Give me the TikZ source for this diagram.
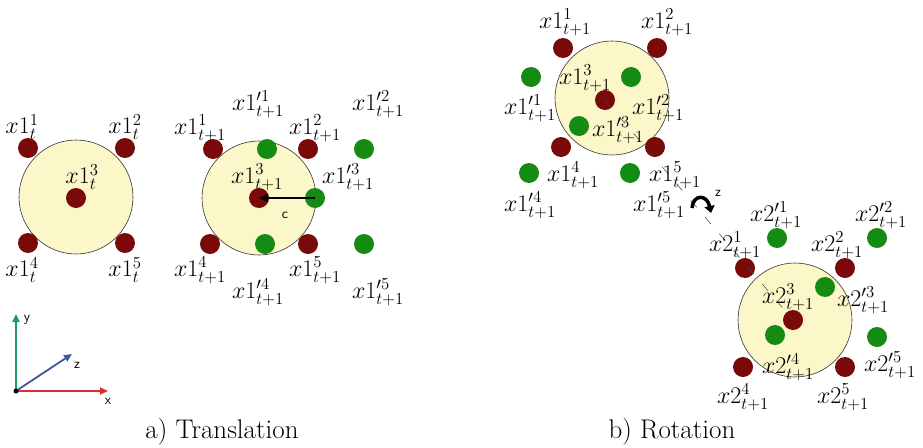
\RequirePackage{fix-cm}
\documentclass[tikz,border=0pt]{standalone}
\usetikzlibrary{arrows.meta}
\definecolor{dred}{HTML}{7A0A0A}
\definecolor{dgreen}{HTML}{148C14}
\definecolor{cfill}{HTML}{FBF7C8}
\definecolor{axgreen}{HTML}{1A9A6A}
\definecolor{axblue}{HTML}{3A5A9A}
\definecolor{axred}{HTML}{D83030}
\begin{document}
\begin{tikzpicture}[x=1pt,y=-1pt,
 rdot/.style={circle,fill=dred,minimum size=20pt,inner sep=0pt},
 gdot/.style={circle,fill=dgreen,minimum size=20pt,inner sep=0pt},
 body/.style={circle,draw=black!80,fill=cfill,line width=0.6pt,minimum size=114pt,inner sep=0pt},
 lab/.style={inner sep=0pt,font=\fontsize{24}{28}\selectfont},
 caption/.style={inner sep=0pt,font=\fontsize{27}{31}\selectfont},
 sflab/.style={inner sep=0pt,font=\sffamily\fontsize{14}{16}\selectfont},
 axis/.style={line width=1.8pt,-{Triangle[length=8pt,width=7pt]}},
]
\useasboundingbox (0,0) rectangle (923,447);

% ---------- Panel a, left ----------
\node[body] (A) at (76,197) {};
\node[rdot] (a1) at (28,148) {};
\node[rdot] (a2) at (125,148) {};
\node[rdot] (a3) at (76,198) {};
\node[rdot] (a4) at (28,243) {};
\node[rdot] (a5) at (125,243) {};
\node[lab] (la1) at (22,127) {$x1^1_t$};
\node[lab] (la2) at (125,127) {$x1^2_t$};
\node[lab] (la3) at (82,177) {$x1^3_t$};
\node[lab] (la4) at (22,270) {$x1^4_t$};
\node[lab] (la5) at (125,270) {$x1^5_t$};

% ---------- Panel a, right ----------
\node[body] (B) at (259,198) {};
\node[rdot] (b1) at (213,149) {};
\node[rdot] (b2) at (308,149) {};
\node[rdot] (b3) at (259,198) {};
\node[rdot] (b4) at (210,244) {};
\node[rdot] (b5) at (308,244) {};
\node[gdot] (bg1) at (267,149) {};
\node[gdot] (bg2) at (364,149) {};
\node[gdot] (bg3) at (315,198) {};
\node[gdot] (bg4) at (265,244) {};
\node[gdot] (bg5) at (364,244) {};
\draw[line width=1.6pt,-{Triangle[length=9pt,width=8pt]}] (bg3.center) -- (b3.center);
\node[sflab] (c) at (285,215) {c};
\node[lab] (lb1) at (200,128) {$x1^1_{t+1}$};
\node[lab] (lbg1) at (258,104) {$x1'^1_{t+1}$};
\node[lab] (lb2) at (315,128) {$x1^2_{t+1}$};
\node[lab] (lbg2) at (378,104) {$x1'^2_{t+1}$};
\node[lab] (lb3) at (257,177) {$x1^3_{t+1}$};
\node[lab] (lbg3) at (348,177) {$x1'^3_{t+1}$};
\node[lab] (lb4) at (200,270) {$x1^4_{t+1}$};
\node[lab] (lbg4) at (258,292) {$x1'^4_{t+1}$};
\node[lab] (lb5) at (315,270) {$x1^5_{t+1}$};
\node[lab] (lbg5) at (378,292) {$x1'^5_{t+1}$};

% ---------- axes ----------
\coordinate (O) at (16,391);
\coordinate (Y) at (16,314);
\coordinate (X) at (108,391);
\coordinate (Z) at (72,354);
\draw[axis,axgreen] (O) -- (Y);
\draw[axis,axred] (O) -- (X);
\draw[axis,axblue] (O) -- (Z);
\fill[black] (O) circle (2.5pt);
\node[sflab] (ly) at (27,320) {y};
\node[sflab] (lz) at (77,365) {z};
\node[sflab] (lx) at (108,401) {x};

% ---------- Panel b, first body ----------
\node[body] (C) at (612,98) {};
\node[rdot] (c1) at (563,48) {};
\node[rdot] (c2) at (657,48) {};
\node[rdot] (c3) at (605,100) {};
\node[rdot] (c4) at (561,147) {};
\node[rdot] (c5) at (655,147) {};
\node[gdot] (cg1) at (531,77) {};
\node[gdot] (cg2) at (631,77) {};
\node[gdot] (cg3) at (579,126) {};
\node[gdot] (cg4) at (529,173) {};
\node[gdot] (cg5) at (630,173) {};

% ---------- Panel b, second body ----------
\node[body] (D) at (795,320) {};
\node[rdot] (d1) at (745,268) {};
\node[rdot] (d2) at (845,268) {};
\node[rdot] (d3) at (793,320) {};
\node[rdot] (d4) at (743,367) {};
\node[rdot] (d5) at (845,367) {};
\node[gdot] (dg1) at (777,238) {};
\node[gdot] (dg2) at (877,238) {};
\node[gdot] (dg3) at (825,287) {};
\node[gdot] (dg4) at (775,335) {};
\node[gdot] (dg5) at (877,337) {};

% rotation axis
\draw[black!75,line width=0.5pt,dash pattern=on 9pt off 13pt] (c3.center) -- (d3.center);

% rotation arrow
\coordinate (ra) at (692,208);
\coordinate (rb) at (711,213);
\draw[line width=3.5pt,-{Triangle[length=7pt,width=10pt]}] (ra) .. controls (693,194) and (707,194) .. (rb);
\node[sflab] (rz) at (718,193) {z};

\node[lab] (lc1) at (565,22) {$x1^1_{t+1}$};
\node[lab] (lc2) at (667,22) {$x1^2_{t+1}$};
\node[lab] (lc3) at (585,78) {$x1^3_{t+1}$};
\node[lab] (lcg1) at (530,108) {$x1'^1_{t+1}$};
\node[lab] (lcg2) at (658,108) {$x1'^2_{t+1}$};
\node[lab] (lcg3) at (618,130) {$x1'^3_{t+1}$};
\node[lab] (lc4) at (573,175) {$x1^4_{t+1}$};
\node[lab] (lc5) at (675,175) {$x1^5_{t+1}$};
\node[lab] (lcg4) at (530,205) {$x1'^4_{t+1}$};
\node[lab] (lcg5) at (659,205) {$x1'^5_{t+1}$};

\node[lab] (ldg1) at (776,215) {$x2'^1_{t+1}$};
\node[lab] (ldg2) at (881,215) {$x2'^2_{t+1}$};
\node[lab] (ld1) at (735,245) {$x2^1_{t+1}$};
\node[lab] (ld2) at (837,245) {$x2^2_{t+1}$};
\node[lab] (ld3) at (788,297) {$x2^3_{t+1}$};
\node[lab] (ldg3) at (863,300) {$x2'^3_{t+1}$};
\node[lab] (ldg4) at (788,367) {$x2'^4_{t+1}$};
\node[lab] (ldg5) at (890,365) {$x2'^5_{t+1}$};
\node[lab] (ld4) at (743,397) {$x2^4_{t+1}$};
\node[lab] (ld5) at (843,397) {$x2^5_{t+1}$};

% captions
\node[caption] (capa) at (222,432) {a) Translation};
\node[caption] (capb) at (672,432) {b) Rotation};
\end{tikzpicture}
\end{document}
